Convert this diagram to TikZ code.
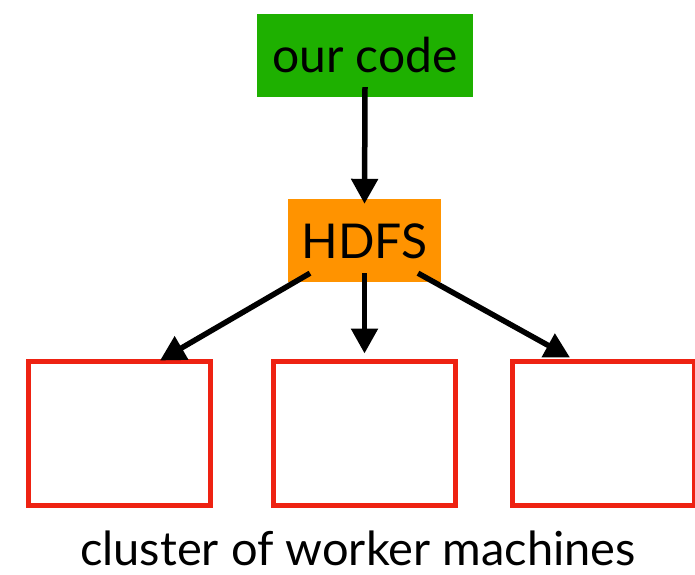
\documentclass[tikz,border=0pt]{standalone}
\usepackage{fontspec}
\setmainfont{Lato}
\usetikzlibrary{arrows.meta,calc}
\definecolor{codegreen}{RGB}{30,176,0}
\definecolor{hdfsorange}{RGB}{255,147,0}
\definecolor{workerred}{RGB}{238,34,18}
\tikzset{
  bigtext/.style={font=\fontsize{48}{48}\selectfont},
  filledbox/.style={rectangle, inner sep=0pt, bigtext, text depth=0pt},
  workerbox/.style={rectangle, draw=workerred, line width=5pt, fill=white, minimum width=182pt, minimum height=144pt, inner sep=0pt},
  flow/.style={line width=5.5pt, -{Triangle[width=26pt,length=25pt]}}
}
\begin{document}
\begin{tikzpicture}[x=1pt,y=1pt]
\useasboundingbox (0,0) rectangle (695,574);
\node[filledbox, fill=codegreen, minimum width=216pt, minimum height=83pt, text height=35pt] (code) at (365,518.5) {our code};
\node[filledbox, fill=hdfsorange, minimum width=153pt, minimum height=83pt, text height=35pt] (hdfs) at (364.5,333.5) {HDFS};
\node[workerbox] (w1) at (119.5,140.5) {};
\node[workerbox] (w2) at (364.5,140.5) {};
\node[workerbox] (w3) at (603.5,140.5) {};
\node[font=\fontsize{47}{47}\selectfont, anchor=base, inner sep=0pt] (label) at (358,9) {cluster of worker machines};
\draw[flow] ($(code.south)+(0,10)$) -- ($(hdfs.north)+(0,-5)$);
\draw[flow] ($(hdfs.south)+(-54.5,9)$) -- ($(w1.north)+(40.5,-1.5)$);
\draw[flow] ($(hdfs.south)+(0,9)$) -- ($(w2.north)+(0,5.5)$);
\draw[flow] ($(hdfs.south)+(53.5,9)$) -- ($(w3.north)+(-33.5,1.5)$);
\end{tikzpicture}
\end{document}
